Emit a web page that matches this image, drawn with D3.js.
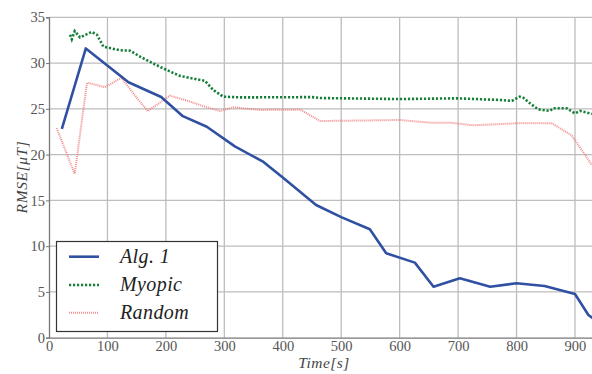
<!DOCTYPE html>
<html>
<head>
<meta charset="utf-8">
<script src="https://cdn.jsdelivr.net/npm/d3@7"></script>
<style>
  body { margin: 0; background: #fff; }
  svg { display: block; }
</style>
</head>
<body>
<svg id="plot" width="592" height="374"></svg>
<script>
// values
const seriesNames = ['Alg. 1', 'Myopic', 'Random'];

const alg1 = [
  [22, 22.8], [63, 31.6], [136, 27.9], [192, 26.3], [229, 24.2], [270, 23.05],
  [318, 20.9], [367, 19.2], [400, 17.5], [457, 14.5], [501, 13.15], [549, 11.84],
  [577, 9.22], [626, 8.2], [658, 5.57], [703, 6.49], [755, 5.57], [800, 5.94],
  [848, 5.65], [900, 4.77], [923, 2.48], [935, 1.9]
];

const myopic = [
  [36, 33.1], [39, 32.6], [44, 33.5], [53, 32.8], [73, 33.4], [82, 33.1],
  [93, 31.8], [121, 31.4], [139, 31.35], [156, 30.7], [178, 29.97], [196, 29.4],
  [224, 28.6], [267, 28.05], [281, 27.06], [298, 26.33], [327, 26.25], [450, 26.28],
  [464, 26.18], [600, 26.07], [698, 26.15], [772, 25.97], [792, 25.86], [805, 26.33],
  [812, 26.2], [823, 25.6], [837, 24.95], [857, 24.77], [863, 25.06], [886, 25.06],
  [900, 24.5], [909, 24.77], [929, 24.44]
];

const random = [
  [13, 22.9], [44, 17.9], [65, 27.86], [96, 27.36], [124, 28.4], [149, 26.3],
  [169, 24.76], [207, 26.44], [236, 25.9], [270, 25.17], [293, 24.77], [315, 25.17],
  [361, 24.88], [430, 24.92], [464, 23.67], [600, 23.78], [652, 23.49], [686, 23.49],
  [726, 23.2], [800, 23.42], [860, 23.42], [894, 22.14], [929, 18.86]
];

const xTicks = [0, 100, 200, 300, 400, 500, 600, 700, 800, 900];
const yTicks = [0, 5, 10, 15, 20, 25, 30, 35];

const svg = d3.select('#plot');
const margin = { top: 17.3, right: 0, bottom: 36.3, left: 49 };
const width = +svg.attr('width');
const height = +svg.attr('height');

const xScale = d3.scaleLinear().domain([0, 930]).range([margin.left, width + 0.5]);
const yScale = d3.scaleLinear().domain([0, 35]).range([height - margin.bottom, margin.top]);

const serif = '"Liberation Serif"';

svg.append('defs').append('clipPath').attr('id', 'clip')
  .append('rect')
    .attr('x', margin.left).attr('y', margin.top)
    .attr('width', width - margin.left).attr('height', yScale(0) - margin.top);

// grid
const grid = svg.append('g');
grid.selectAll('.vg').data(xTicks.filter(d => d > 0)).enter().append('line')
  .attr('x1', d => xScale(d)).attr('x2', d => xScale(d))
  .attr('y1', yScale(0)).attr('y2', yScale(35))
  .attr('stroke', '#bdbdbd').attr('stroke-width', 1.3);
grid.selectAll('.hg').data(yTicks.filter(d => d > 0)).enter().append('line')
  .attr('x1', margin.left).attr('x2', width)
  .attr('y1', d => yScale(d)).attr('y2', d => yScale(d))
  .attr('stroke', '#bdbdbd').attr('stroke-width', 1.3);

// axes
const xAxis = d3.axisBottom(xScale).tickValues(xTicks).tickSize(0).tickPadding(3);
const yAxis = d3.axisLeft(yScale).tickValues(yTicks).tickSize(3).tickPadding(1);

const axisStyle = g => {
  g.attr('font-family', null);
  g.selectAll('.domain').attr('stroke', '#777').attr('stroke-width', 1.3);
  g.selectAll('.tick line').attr('stroke', '#777').attr('stroke-width', 1);
  g.selectAll('text')
    .style('font-family', serif)
    .attr('font-size', 14.5)
    .attr('fill', '#555');
};

svg.append('g')
  .attr('transform', `translate(0, ${yScale(0)})`)
  .call(xAxis)
  .call(axisStyle);

svg.append('g')
  .attr('transform', `translate(${margin.left}, 0)`)
  .call(yAxis)
  .call(axisStyle);

// lines
const line = d3.line().x(d => xScale(d[0])).y(d => yScale(d[1]));
const plotG = svg.append('g').attr('clip-path', 'url(#clip)');

plotG.append('path').datum(random)
  .attr('d', line).attr('fill', 'none')
  .attr('stroke', '#f07878').attr('stroke-width', 2)
  .attr('stroke-dasharray', '1,1').attr('opacity', 0.85);

plotG.append('path').datum(myopic)
  .attr('d', line).attr('fill', 'none')
  .attr('stroke', '#16803a').attr('stroke-width', 2.6)
  .attr('stroke-dasharray', '2.2,1.8');

plotG.append('path').datum(alg1)
  .attr('d', line).attr('fill', 'none')
  .attr('stroke', '#3050a2').attr('stroke-width', 2.6)
  .attr('stroke-linejoin', 'round');

// axis labels
svg.append('text')
  .attr('x', 324).attr('y', 368)
  .attr('text-anchor', 'middle')
  .style('font-family', serif).attr('font-style', 'italic')
  .attr('font-size', 15.5).attr('fill', '#444')
  .attr('letter-spacing', 0.5)
  .text('Time[s]');

svg.append('text')
  .attr('transform', 'translate(27, 177) rotate(-90)')
  .attr('text-anchor', 'middle')
  .style('font-family', serif).attr('font-style', 'italic')
  .attr('font-size', 15.5).attr('fill', '#444')
  .attr('letter-spacing', 0.6)
  .text('RMSE[μT]');

// legend
const legend = svg.append('g');
legend.append('rect')
  .attr('x', 56.5).attr('y', 241.5).attr('width', 161).attr('height', 90)
  .attr('fill', '#fff').attr('stroke', '#333').attr('stroke-width', 1.2);

const legendStyles = [
  { stroke: '#3050a2', width: 2.6, dash: null, op: 1 },
  { stroke: '#16803a', width: 2.6, dash: '2.2,1.8', op: 1 },
  { stroke: '#f07878', width: 2, dash: '1,1', op: 0.85 }
];
const legendY = [256.7, 285, 312.7];

const items = legend.selectAll('.item').data(seriesNames).enter().append('g');
items.append('line')
  .attr('x1', 69).attr('x2', 99)
  .attr('y1', (d, i) => legendY[i]).attr('y2', (d, i) => legendY[i])
  .attr('stroke', (d, i) => legendStyles[i].stroke)
  .attr('stroke-width', (d, i) => legendStyles[i].width)
  .attr('stroke-dasharray', (d, i) => legendStyles[i].dash)
  .attr('opacity', (d, i) => legendStyles[i].op);
items.append('text')
  .attr('x', 120).attr('y', (d, i) => legendY[i] + 6)
  .style('font-family', serif).attr('font-style', 'italic')
  .attr('font-size', 20).attr('fill', '#222')
  .attr('letter-spacing', 0.4)
  .text(d => d);
</script>
</body>
</html>
